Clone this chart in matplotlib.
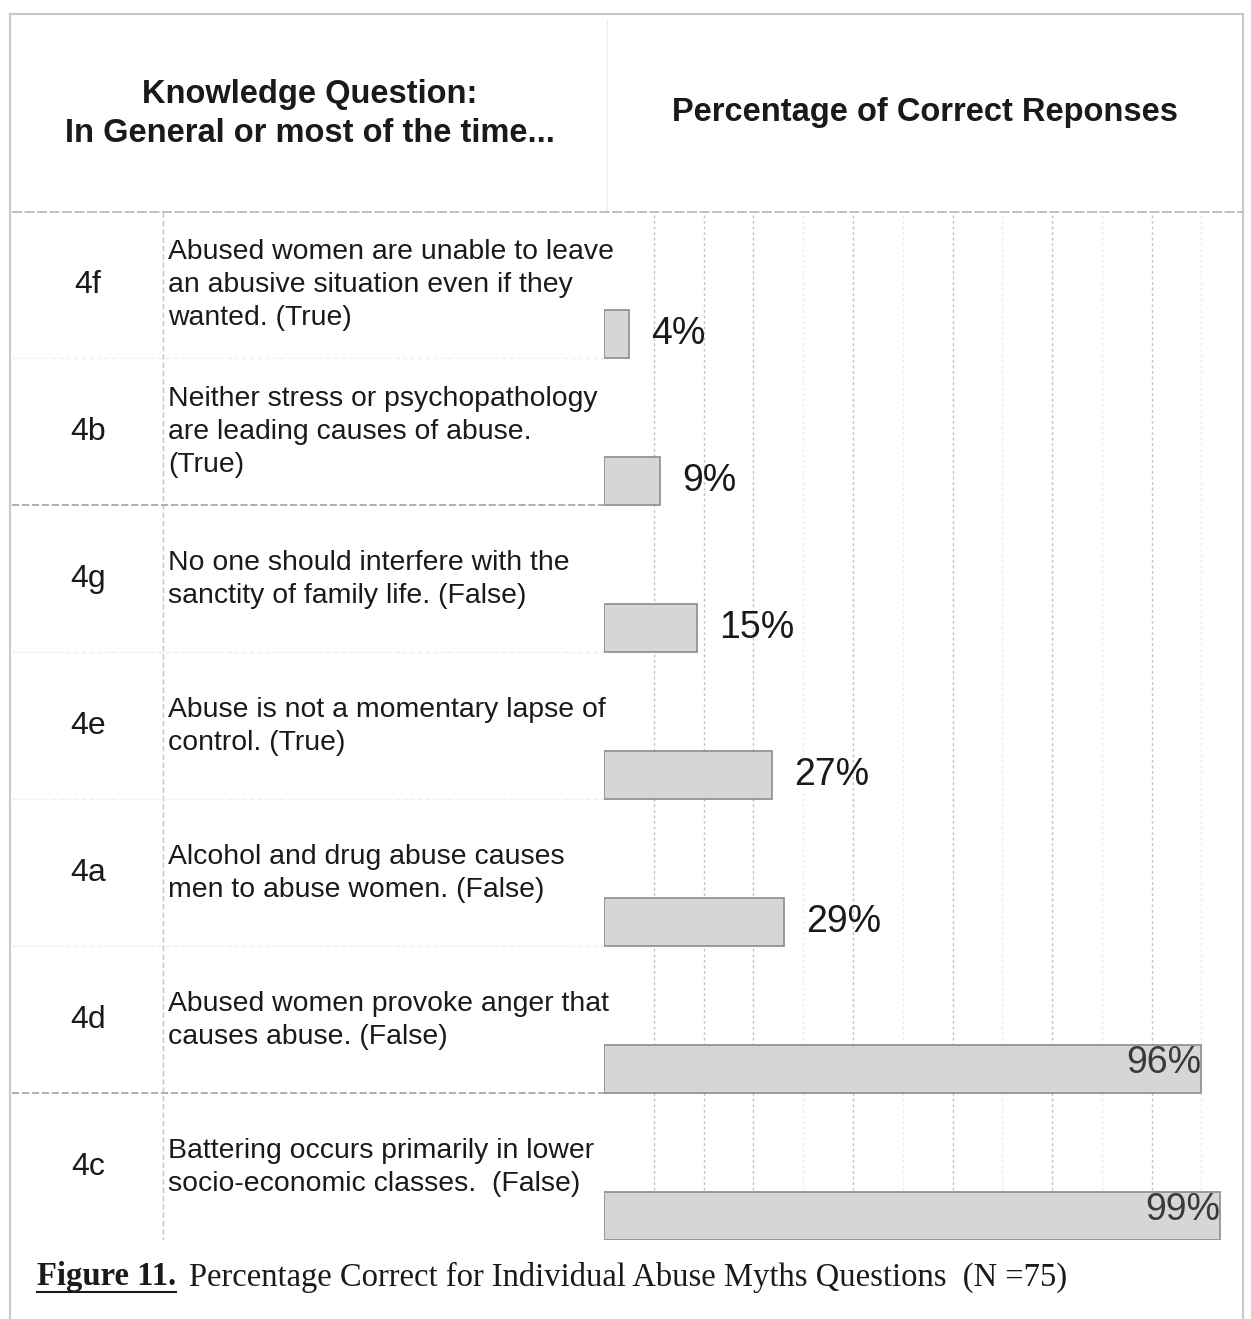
import matplotlib
matplotlib.use("Agg")
import matplotlib.pyplot as plt
import matplotlib.transforms as mtransforms
import numpy as np

plt.rcParams["font.family"] = ["Liberation Sans", "DejaVu Sans"]

# data
codes = ["4f", "4b", "4g", "4e", "4a", "4d", "4c"]
questions = [
    "Abused women are unable to leave\nan abusive situation even if they\nwanted. (True)",
    "Neither stress or psychopathology\nare leading causes of abuse.\n(True)",
    "No one should interfere with the\nsanctity of family life. (False)",
    "Abuse is not a momentary lapse of\ncontrol. (True)",
    "Alcohol and drug abuse causes\nmen to abuse women. (False)",
    "Abused women provoke anger that\ncauses abuse. (False)",
    "Battering occurs primarily in lower\nsocio-economic classes.  (False)",
]
pct_correct = [4, 9, 15, 27, 29, 96, 99]
grid_strong = [8, 16, 24, 40, 56, 72, 88]
grid_faint = [32, 48, 64, 80, 96]

W, H = 1251, 1319
fig = plt.figure(figsize=(W / 100, H / 100), dpi=100)

# background axes in pixel coords (y down)
bg = fig.add_axes([0, 0, 1, 1])
bg.set_xlim(0, W)
bg.set_ylim(H, 0)
bg.axis("off")

# bar axes
ax_l, ax_r, ax_t, ax_b = 604, 1245, 212, 1240
ax = fig.add_axes([ax_l / W, (H - ax_b) / H, (ax_r - ax_l) / W, (ax_b - ax_t) / H])
ax.set_xlim(0, 103)
ax.set_ylim(6.163, -0.83)
ax.axis("off")

frame = "#c8c8c8"
# outer frame + header lines
bg.plot([10, 1243], [14, 14], color=frame, lw=1.5)
bg.plot([10, 10], [14, H], color=frame, lw=1.5)
bg.plot([1243, 1243], [14, H], color=frame, lw=1.5)
bg.plot([607, 607], [20, 212], color="#eeeeee", lw=1)
bg.plot([12, 1243], [212, 212], color="#b5b5b5", lw=1.2, ls=(0, (6, 1.5)))
bg.plot([163, 163], [212, 1240], color="#c4c4c4", lw=1, ls=(0, (4, 2)))

# headers
hdr = dict(fontsize=23.5, fontweight="bold", color="#1a1a1a", ha="center", va="center")
bg.text(310, 94, "Knowledge Question:", **hdr)
bg.text(310, 133, "In General or most of the time...", **hdr)
bg.text(925, 113, "Percentage of Correct Reponses", **hdr)

# grid lines
for g in grid_strong:
    ax.axvline(g, color="#c2c2c2", lw=1, ls=(0, (2, 2)), zorder=0)
for g in grid_faint:
    ax.axvline(g, color="#ebebeb", lw=1, ls=(0, (2, 2)), zorder=0)

# bars
y = np.arange(len(codes))
ax.barh(y, pct_correct, height=0.33, color="#d6d6d6", edgecolor="#939393",
        linewidth=1.3, zorder=2)
for yi, v in zip(y, pct_correct):
    if v > 50:
        ax.text(v, yi - 0.04, f"{v}%", fontsize=27, color="#3a3a3a",
                ha="right", va="center", zorder=3)
    else:
        ax.text(v + 3.5, yi, f"{v}%", fontsize=27, color="#1a1a1a",
                ha="left", va="center", zorder=3)

# row text: x in pixels, y in bar-data units
trans = mtransforms.blended_transform_factory(bg.transData, ax.transData)
step = 33 / 147
for i, (code, q) in enumerate(zip(codes, questions)):
    c = i - 0.333
    bg.text(88, c, code, transform=trans, fontsize=23, color="#1a1a1a",
            ha="center", va="center")
    lines = q.split("\n")
    n = len(lines)
    for k, line in enumerate(lines):
        bg.text(168, c + (k - (n - 1) / 2) * step, line, transform=trans,
                fontsize=20.4, color="#1a1a1a", ha="left", va="center")
    # row divider under each bar
    if i < len(codes) - 1:
        strong = i in (1, 5)
        bg.plot([12, 604], [i + 0.165, i + 0.165], transform=trans,
                color="#a8a8a8" if strong else "#efefef", lw=1.3 if strong else 1,
                ls=(0, (4, 1.5)))

# caption
fig.canvas.draw()
r = fig.canvas.get_renderer()
t1 = bg.text(37, 1277, "Figure 11.", fontsize=23.5, fontweight="bold",
             family="Liberation Serif", color="#1a1a1a", ha="left", va="center")
bb = t1.get_window_extent(renderer=r)
x1 = bg.transData.inverted().transform((bb.x1, bb.y0))[0]
bg.plot([37, x1], [1292, 1292], color="#1a1a1a", lw=1.5)
bg.text(x1 + 13, 1277, "Percentage Correct for Individual Abuse Myths Questions  (N =75)",
        fontsize=23.5, family="Liberation Serif", color="#1a1a1a",
        ha="left", va="center")

fig.savefig("out.png", dpi=100)
